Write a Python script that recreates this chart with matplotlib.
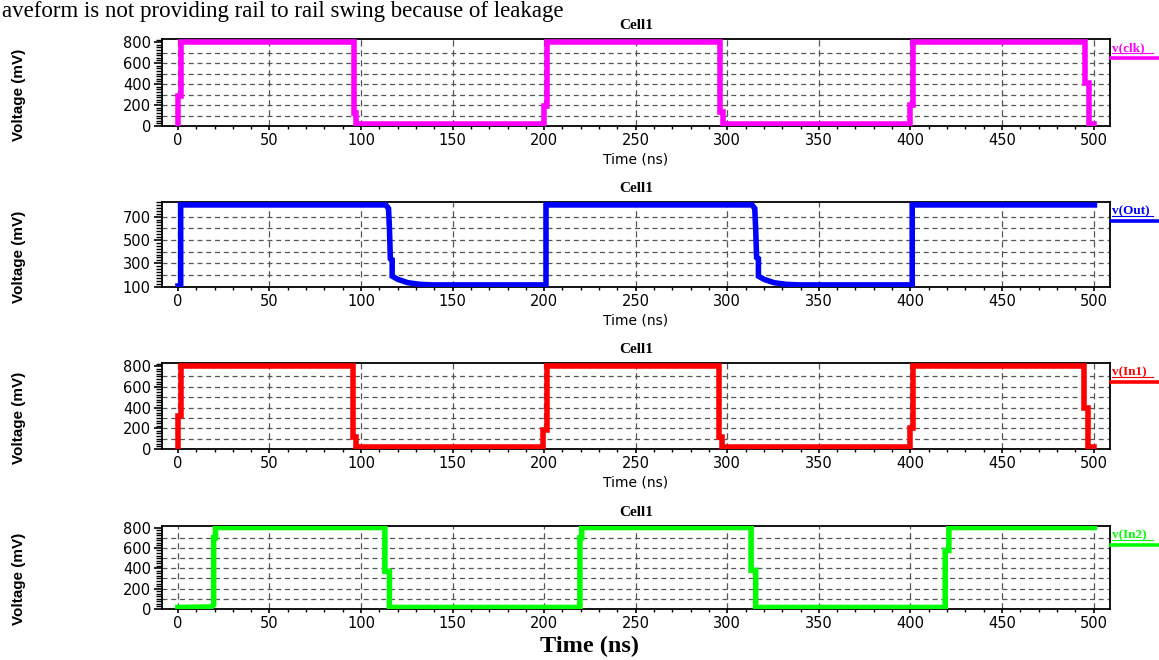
import matplotlib
matplotlib.use("Agg")
import matplotlib.pyplot as plt
from matplotlib.ticker import MultipleLocator
from matplotlib.lines import Line2D

# waveform data (time in ns, voltage in mV)
clk_t = [0.0, 0.0, 1.5, 1.5, 96.0, 96.0, 97.5, 97.5, 200.0, 200.0, 201.5, 201.5,
         296.0, 296.0, 297.5, 297.5, 400.0, 400.0, 401.5, 401.5, 495.5, 495.5,
         497.5, 497.5, 500.5]
clk_v = [0, 290, 290, 800, 800, 120, 120, 15, 15, 190, 190, 800,
         800, 130, 130, 15, 15, 200, 200, 800, 800, 410,
         410, 15, 15]

out_t = [0.0, 1.5, 1.5, 113.5, 115.0, 115.5, 116.0, 117.0, 117.0, 120.0, 125.5,
         132.0, 139.0, 201.0, 201.0, 313.5, 315.0, 315.5, 316.0, 317.0, 317.0,
         320.0, 325.5, 332.0, 339.0, 401.0, 401.0, 500.5]
out_v = [105, 105, 800, 800, 770, 600, 340, 330, 190, 163, 134,
         120, 115, 115, 800, 800, 770, 600, 350, 340, 190,
         163, 134, 120, 115, 115, 800, 800]

in1_t = [0.0, 0.0, 1.5, 1.5, 95.5, 95.5, 97.0, 97.0, 199.5, 199.5, 201.5, 201.5,
         295.5, 295.5, 297.0, 297.0, 400.0, 400.0, 401.5, 401.5, 495.0, 495.0,
         497.0, 497.0, 500.5]
in1_v = [0, 320, 320, 800, 800, 112, 112, 15, 15, 182, 182, 800,
         800, 120, 120, 15, 15, 200, 200, 800, 800, 400,
         400, 15, 15]

in2_t = [0.0, 18.0, 19.5, 19.5, 20.5, 20.5, 113.0, 113.0, 115.5, 115.5, 219.5,
         219.5, 220.5, 220.5, 313.0, 313.0, 315.5, 315.5, 419.0, 419.0, 421.0,
         421.0, 500.5]
in2_v = [15, 20, 40, 700, 700, 800, 800, 370, 370, 15, 15,
         700, 700, 800, 800, 380, 380, 15, 15, 575, 575,
         800, 800]

labels = ["v(clk)", "v(Out)", "v(In1)", "v(In2)"]
colors = ["#ff00ff", "#0000ff", "#ff0000", "#00ff00"]

W, H = 1159, 660
fig = plt.figure(figsize=(W / 100, H / 100), dpi=100)


def fx(px):
    return px / W


def fy(py):
    return 1 - py / H


# panel frames in pixels (top, bottom)
frames = [(39, 126), (202, 287), (363, 449), (526, 609)]
ylims = [(0, 830), (97, 825), (0, 830), (0, 815)]
series = [(clk_t, clk_v), (out_t, out_v), (in1_t, in1_v), (in2_t, in2_v)]
left, right = 162, 1110

for i, ((top, bot), (t, v)) in enumerate(zip(frames, series)):
    ax = fig.add_axes([fx(left), fy(bot), fx(right) - fx(left), (bot - top) / H])
    ax.plot(t, v, color=colors[i], lw=4, solid_joinstyle="miter", zorder=3)
    ax.set_xlim(-8.7, 509)
    ax.set_ylim(*ylims[i])

    ax.xaxis.set_major_locator(MultipleLocator(50))
    ax.xaxis.set_minor_locator(MultipleLocator(10))
    ax.yaxis.set_minor_locator(MultipleLocator(25))
    if i == 1:
        ax.set_yticks([100, 300, 500, 700])
        hl = range(200, 800, 100)
    else:
        ax.set_yticks([0, 200, 400, 600, 800])
        hl = range(100, 800, 100)
    for y in hl:
        ax.axhline(y, color="#555555", lw=0.9, ls=(0, (4, 3)), zorder=1)
    ax.grid(axis="x", which="major", color="#555555", lw=0.9, ls=(0, (5, 3)))

    ax.tick_params(axis="y", which="major", length=6, width=1.2, labelsize=10.5, pad=2)
    ax.tick_params(axis="y", which="minor", length=4, width=1.0)
    ax.tick_params(axis="x", which="major", length=3, width=1.2, labelsize=10.5, pad=2)
    ax.tick_params(axis="x", which="minor", length=2, width=1.0)
    for lab in ax.get_xticklabels() + ax.get_yticklabels():
        lab.set_fontfamily("DejaVu Sans")
    for sp in ax.spines.values():
        sp.set_linewidth(1.3)

    ax.set_title("Cell1", fontsize=11, fontweight="bold",
                 fontfamily="Liberation Serif", pad=7)
    ax.set_ylabel("Voltage (mV)", fontsize=11, fontweight="bold",
                  fontfamily="Liberation Sans")
    ax.yaxis.set_label_coords(-0.1435, 0.36)
    if i < 3:
        ax.set_xlabel("Time (ns)", fontsize=10, fontfamily="DejaVu Sans",
                      labelpad=3)

    # trace name to the right of the panel
    fig.text(fx(1112), fy(top + 9), labels[i], color=colors[i], fontsize=9.5,
             fontweight="bold", fontfamily="Liberation Serif", va="center")
    fig.add_artist(Line2D([fx(1112), fx(1153)], [fy(top + 14)] * 2,
                          color=colors[i], lw=0.8))
    fig.add_artist(Line2D([fx(1111), 1.0], [fy(top + 19)] * 2,
                          color=colors[i], lw=2.6))

fig.text(fx(589), fy(652), "Time (ns)", fontsize=17.5, fontweight="bold",
         fontfamily="Liberation Serif", ha="center", va="baseline")
fig.text(0.002, fy(17), "aveform is not providing rail to rail swing because of leakage",
         fontsize=16.5, fontfamily="Liberation Serif", va="baseline")

fig.savefig("out.png", dpi=100)
